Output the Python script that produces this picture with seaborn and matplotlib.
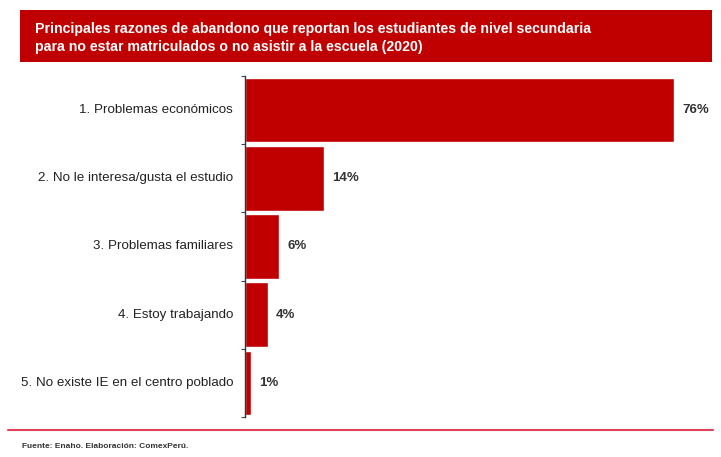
import matplotlib
matplotlib.use("Agg")
import matplotlib.pyplot as plt
import seaborn as sns
import pandas as pd
from matplotlib.patches import Rectangle
from matplotlib.lines import Line2D

categories = ["1. Problemas económicos", "2. No le interesa/gusta el estudio",
              "3. Problemas familiares", "4. Estoy trabajando",
              "5. No existe IE en el centro poblado"]
values = [76, 14, 6, 4, 1]
value_labels = ["76%", "14%", "6%", "4%", "1%"]
title = ("Principales razones de abandono que reportan los estudiantes de nivel secundaria\n"
         "para no estar matriculados o no asistir a la escuela (2020)")
source = "Fuente: Enaho. Elaboración: ComexPerú."

sns.set_theme(style="white")
plt.rcParams['font.family'] = ['Liberation Sans', 'DejaVu Sans']

W, H = 721, 457
fig = plt.figure(figsize=(W/100, H/100), dpi=100)
red = "#C00000"

# axes: x 245..713, y 76..417
ax = fig.add_axes([245/W, 1-417/H, (713-245)/W, (417-76)/H])
df = pd.DataFrame({"cat": categories, "val": values})
sns.barplot(data=df, x="val", y="cat", color=red, saturation=1, width=0.95, ax=ax, orient="h")
ax.set_xlim(0, 83)
ax.set_ylim(4.5, -0.5)
ax.set_xlabel("")
ax.set_ylabel("")
ax.set_xticks([])
ax.set_yticks([i - 0.5 for i in range(6)], minor=False)
ax.set_yticklabels([])
ax.tick_params(axis="y", length=3, width=0.8, color="#444444", left=True, pad=0)
for i, c in enumerate(categories):
    ax.text(-2.1, i, c, ha="right", va="center", fontsize=9.6, color="#222222")
for s in ["top", "right", "bottom"]:
    ax.spines[s].set_visible(False)
ax.spines["left"].set_color("#333333")
ax.spines["left"].set_linewidth(1.0)
for i, (v, lab) in enumerate(zip(values, value_labels)):
    ax.text(v + 1.5, i, lab, ha="left", va="center", fontsize=9.5,
            fontweight="bold", color="#333333")

# title box
fig.patches.append(Rectangle((20/W, 1-62/H), (712-20)/W, (62-10)/H,
                             transform=fig.transFigure, facecolor=red, edgecolor="none"))
fig.text(35/W, 1-38/H, title, ha="left", va="center", fontsize=10.2, fontweight="bold",
         color="white", linespacing=1.35)

# footer line and source
fig.lines.append(Line2D([8/W, 713/W], [1-430/H, 1-430/H], transform=fig.transFigure,
                        color="#E0405A", linewidth=1.5))
fig.text(22/W, 1-446/H, source, ha="left", va="center", fontsize=6,
         fontweight="bold", color="#333333")

fig.savefig("out.png", dpi=100)
